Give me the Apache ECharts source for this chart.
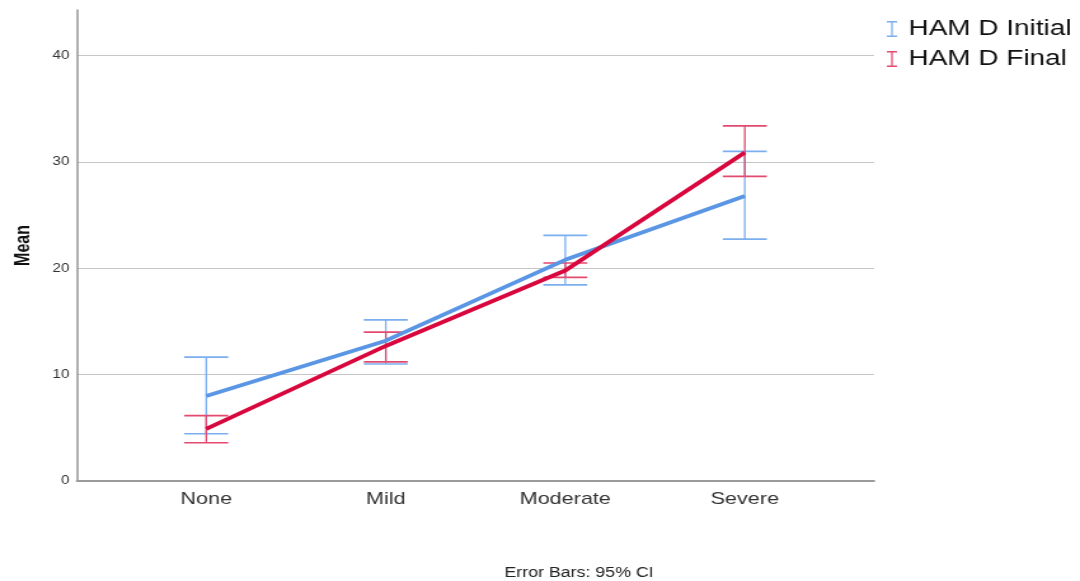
<!DOCTYPE html>
<html><head><meta charset="utf-8">
<script src="https://cdn.jsdelivr.net/npm/echarts@6/dist/echarts.min.js"></script>
<style>
html,body{margin:0;padding:0;background:#fff;overflow:hidden}
#wrap{width:1080px;height:581px;overflow:hidden}
#c{width:850px;height:581px;transform:scaleX(1.270588);transform-origin:0 0}
</style>
</head><body><div id="wrap"><div id="c"></div></div>
<script>
const categories = ['None', 'Mild', 'Moderate', 'Severe'];
const initialMean = [8.0, 13.2, 20.8, 26.8];
const initialLow  = [4.45, 11.0, 18.45, 22.75];
const initialHigh = [11.65, 15.15, 23.1, 31.0];
const finalMean = [4.9, 12.7, 19.8, 30.9];
const finalLow  = [3.6, 11.2, 19.15, 28.65];
const finalHigh = [6.15, 14.0, 20.5, 33.4];
const yTicks = [0, 10, 20, 30, 40];
const seriesNames = ['HAM D Initial', 'HAM D Final'];

const BLUE = '#5a96e4', BLUE_EB = '#7aaeee';
const RED = '#d8073d', RED_EB = '#e24a70';

function errData(lo, hi) { return categories.map((c, i) => [i, lo[i], hi[i]]); }
function errSeries(name, lo, hi, color) {
  return {
    type: 'custom', name: name, z: 2,
    data: errData(lo, hi),
    encode: { x: 0, y: [1, 2] },
    renderItem: function (params, api) {
      const x = api.value(0);
      const p1 = api.coord([x, api.value(1)]);
      const p2 = api.coord([x, api.value(2)]);
      const hw = 17.3;
      const st = { stroke: color, lineWidth: 1.6 };
      const sv = { stroke: color, lineWidth: 1.3 };
      return { type: 'group', children: [
        { type: 'line', shape: { x1: p1[0], y1: p1[1], x2: p2[0], y2: p2[1] }, style: sv },
        { type: 'line', shape: { x1: p1[0] - hw, y1: p1[1], x2: p1[0] + hw, y2: p1[1] }, style: st },
        { type: 'line', shape: { x1: p2[0] - hw, y1: p2[1], x2: p2[0] + hw, y2: p2[1] }, style: st }
      ]};
    }
  };
}
const icon = 'path://M0,0h10v2h-4.2v16h4.2v2h-10v-2h4.2v-16h-4.2z';
const chart = echarts.init(document.getElementById('c'), null, { renderer: 'canvas', width: 850, height: 581 });
chart.setOption({
  animation: false,
  grid: { left: 60.6, right: 162.1, top: 10, bottom: 100, containLabel: false },
  legend: {
    left: 693, top: 13, orient: 'vertical', itemGap: 8,
    itemWidth: 10, itemHeight: 16, icon: icon,
    textStyle: { fontFamily: 'Liberation Sans, Arial', fontSize: 22, color: '#111', padding: [0, 0, 0, 3] },
    data: [
      { name: seriesNames[0], itemStyle: { color: BLUE_EB } },
      { name: seriesNames[1], itemStyle: { color: RED_EB } }
    ]
  },
  xAxis: {
    type: 'value', min: -0.72, max: 3.72,
    splitLine: { show: false },
    axisLine: { show: true, onZero: false, lineStyle: { color: '#9b9b9b', width: 2 } },
    axisTick: { show: false },
    axisLabel: {
      customValues: [0, 1, 2, 3],
      formatter: v => categories[Math.round(v)] || '',
      fontFamily: 'Liberation Sans, Arial', fontSize: 17, color: '#333', margin: 10
    }
  },
  yAxis: {
    type: 'value', min: 0, max: 44.3, interval: 10,
    name: 'Mean', nameLocation: 'middle', nameGap: 34, nameRotate: 90,
    nameTextStyle: { fontFamily: 'Liberation Sans, Arial', fontWeight: 'bold', fontSize: 16, color: '#111' },
    axisLine: { show: true, onZero: false, lineStyle: { color: '#9b9b9b', width: 1.6 } },
    axisTick: { show: false },
    splitLine: { show: true, showMaxLine: false, showMinLine: false, lineStyle: { color: '#c6c6c6', width: 1 } },
    axisLabel: {
      customValues: yTicks,
      fontFamily: 'Liberation Sans, Arial', fontSize: 12, color: '#333', margin: 6
    }
  },
  graphic: [{
    type: 'text', left: 397, top: 566,
    style: { text: 'Error Bars: 95% CI', font: '14px "Liberation Sans", Arial', fill: '#222' }
  }],
  series: [
    errSeries(seriesNames[0], initialLow, initialHigh, BLUE_EB),
    errSeries(seriesNames[1], finalLow, finalHigh, RED_EB),
    { type: 'line', name: seriesNames[0], z: 3, data: initialMean.map((v, i) => [i, v]),
      symbol: 'none', lineStyle: { color: BLUE, width: 3.8 }, itemStyle: { color: BLUE } },
    { type: 'line', name: seriesNames[1], z: 4, data: finalMean.map((v, i) => [i, v]),
      symbol: 'none', lineStyle: { color: RED, width: 3.8 }, itemStyle: { color: RED } }
  ]
});
</script></body></html>
